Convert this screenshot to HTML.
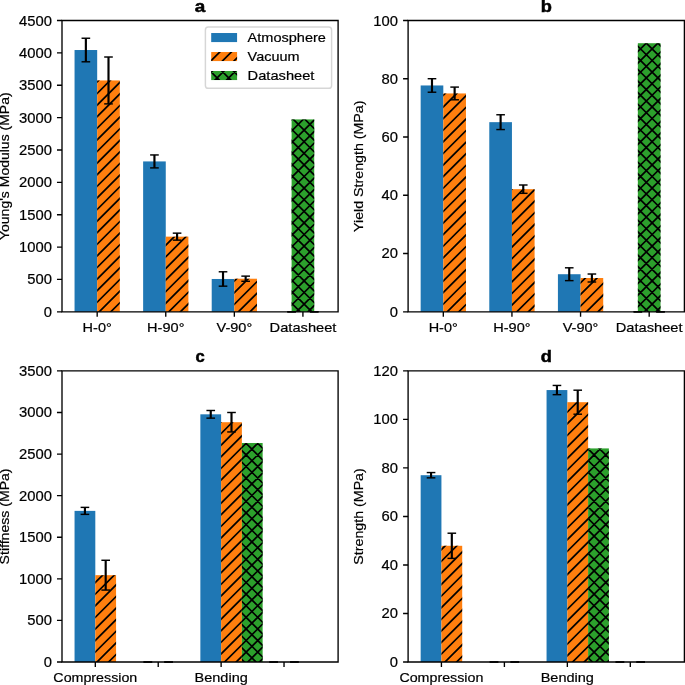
<!DOCTYPE html>
<html><head><meta charset="utf-8"><style>
html,body{margin:0;padding:0;background:#fff;}
svg{display:block;will-change:transform;}
text{font-family:"Liberation Sans",sans-serif;fill:#000;}
</style></head><body>
<svg width="685" height="685" viewBox="0 0 685 685">
<rect width="685" height="685" fill="#fff"/>
<defs><clipPath id="c1"><rect x="97.18" y="80.44" width="22.63" height="231.36"/></clipPath>
<clipPath id="c2"><rect x="165.76" y="236.64" width="22.63" height="75.16"/></clipPath>
<clipPath id="c3"><rect x="234.34" y="278.72" width="22.63" height="33.08"/></clipPath>
<clipPath id="c4"><rect x="291.6" y="119.41" width="22.63" height="192.39"/></clipPath>
<clipPath id="c5"><rect x="443.31" y="93.44" width="22.65" height="218.36"/></clipPath>
<clipPath id="c6"><rect x="511.94" y="189.16" width="22.65" height="122.64"/></clipPath>
<clipPath id="c7"><rect x="580.56" y="278.01" width="22.65" height="33.79"/></clipPath>
<clipPath id="c8"><rect x="637.87" y="43.22" width="22.65" height="268.58"/></clipPath>
<clipPath id="c9"><rect x="95.31" y="575.17" width="20.76" height="86.83"/></clipPath>
<clipPath id="c10"><rect x="221.12" y="422.22" width="20.76" height="239.78"/></clipPath>
<clipPath id="c11"><rect x="241.88" y="443.01" width="20.76" height="218.99"/></clipPath>
<clipPath id="c12"><rect x="441.43" y="545.8" width="20.77" height="116.2"/></clipPath>
<clipPath id="c13"><rect x="567.34" y="402.19" width="20.77" height="259.81"/></clipPath>
<clipPath id="c14"><rect x="588.11" y="448.41" width="20.77" height="213.59"/></clipPath>
<clipPath id="c15"><rect x="211.2" y="52.01" width="25.88" height="9.06"/></clipPath>
<clipPath id="c16"><rect x="211.2" y="71" width="25.88" height="9.06"/></clipPath></defs>
<rect x="74.55" y="50.02" width="22.63" height="261.78" fill="#1f77b4"/>
<rect x="97.18" y="80.44" width="22.63" height="231.36" fill="#ff7f0e"/>
<path clip-path="url(#c1)" d="M95.18 60.62L121.81 33.99M95.18 72.22L121.81 45.59M95.18 83.82L121.81 57.19M95.18 95.42L121.81 68.79M95.18 107.02L121.81 80.39M95.18 118.62L121.81 91.99M95.18 130.22L121.81 103.59M95.18 141.82L121.81 115.19M95.18 153.42L121.81 126.79M95.18 165.02L121.81 138.39M95.18 176.62L121.81 149.99M95.18 188.22L121.81 161.59M95.18 199.82L121.81 173.19M95.18 211.42L121.81 184.79M95.18 223.02L121.81 196.39M95.18 234.62L121.81 207.99M95.18 246.22L121.81 219.59M95.18 257.82L121.81 231.19M95.18 269.42L121.81 242.79M95.18 281.02L121.81 254.39M95.18 292.62L121.81 265.99M95.18 304.22L121.81 277.59M95.18 315.82L121.81 289.19M95.18 327.42L121.81 300.79M95.18 339.02L121.81 312.39M95.18 350.62L121.81 323.99" stroke="#000" stroke-width="1.7" fill="none"/>
<rect x="143.13" y="161.42" width="22.63" height="150.38" fill="#1f77b4"/>
<rect x="165.76" y="236.64" width="22.63" height="75.16" fill="#ff7f0e"/>
<path clip-path="url(#c2)" d="M163.76 224.04L190.39 197.41M163.76 235.64L190.39 209.01M163.76 247.24L190.39 220.61M163.76 258.84L190.39 232.21M163.76 270.44L190.39 243.81M163.76 282.04L190.39 255.41M163.76 293.64L190.39 267.01M163.76 305.24L190.39 278.61M163.76 316.84L190.39 290.21M163.76 328.44L190.39 301.81M163.76 340.04L190.39 313.41M163.76 351.64L190.39 325.01" stroke="#000" stroke-width="1.7" fill="none"/>
<rect x="211.71" y="278.98" width="22.63" height="32.82" fill="#1f77b4"/>
<rect x="234.34" y="278.72" width="22.63" height="33.08" fill="#ff7f0e"/>
<path clip-path="url(#c3)" d="M232.34 259.86L258.97 233.23M232.34 271.46L258.97 244.83M232.34 283.06L258.97 256.43M232.34 294.66L258.97 268.03M232.34 306.26L258.97 279.63M232.34 317.86L258.97 291.23M232.34 329.46L258.97 302.83M232.34 341.06L258.97 314.43M232.34 352.66L258.97 326.03" stroke="#000" stroke-width="1.7" fill="none"/>
<rect x="291.6" y="119.41" width="22.63" height="192.39" fill="#2ca02c"/>
<path clip-path="url(#c4)" d="M289.6 109.8L316.23 83.17M289.6 121.4L316.23 94.77M289.6 133L316.23 106.37M289.6 144.6L316.23 117.97M289.6 156.2L316.23 129.57M289.6 167.8L316.23 141.17M289.6 179.4L316.23 152.77M289.6 191L316.23 164.37M289.6 202.6L316.23 175.97M289.6 214.2L316.23 187.57M289.6 225.8L316.23 199.17M289.6 237.4L316.23 210.77M289.6 249L316.23 222.37M289.6 260.6L316.23 233.97M289.6 272.2L316.23 245.57M289.6 283.8L316.23 257.17M289.6 295.4L316.23 268.77M289.6 307L316.23 280.37M289.6 318.6L316.23 291.97M289.6 330.2L316.23 303.57M289.6 341.8L316.23 315.17M289.6 353.4L316.23 326.77M289.6 324.4L316.23 351.03M289.6 312.8L316.23 339.43M289.6 301.2L316.23 327.83M289.6 289.6L316.23 316.23M289.6 278L316.23 304.63M289.6 266.4L316.23 293.03M289.6 254.8L316.23 281.43M289.6 243.2L316.23 269.83M289.6 231.6L316.23 258.23M289.6 220L316.23 246.63M289.6 208.4L316.23 235.03M289.6 196.8L316.23 223.43M289.6 185.2L316.23 211.83M289.6 173.6L316.23 200.23M289.6 162L316.23 188.63M289.6 150.4L316.23 177.03M289.6 138.8L316.23 165.43M289.6 127.2L316.23 153.83M289.6 115.6L316.23 142.23M289.6 104L316.23 130.63M289.6 92.4L316.23 119.03M289.6 80.8L316.23 107.43" stroke="#000" stroke-width="1.7" fill="none"/>
<line x1="85.87" y1="38.24" x2="85.87" y2="61.8" stroke="#000" stroke-width="2.16"/>
<line x1="81.55" y1="38.24" x2="90.18" y2="38.24" stroke="#000" stroke-width="1.44"/>
<line x1="81.55" y1="61.8" x2="90.18" y2="61.8" stroke="#000" stroke-width="1.44"/>
<line x1="108.5" y1="57.01" x2="108.5" y2="103.88" stroke="#000" stroke-width="2.16"/>
<line x1="104.18" y1="57.01" x2="112.81" y2="57.01" stroke="#000" stroke-width="1.44"/>
<line x1="104.18" y1="103.88" x2="112.81" y2="103.88" stroke="#000" stroke-width="1.44"/>
<line x1="154.44" y1="154.95" x2="154.44" y2="167.9" stroke="#000" stroke-width="2.16"/>
<line x1="150.13" y1="154.95" x2="158.76" y2="154.95" stroke="#000" stroke-width="1.44"/>
<line x1="150.13" y1="167.9" x2="158.76" y2="167.9" stroke="#000" stroke-width="1.44"/>
<line x1="177.08" y1="233.15" x2="177.08" y2="240.14" stroke="#000" stroke-width="2.16"/>
<line x1="172.76" y1="233.15" x2="181.39" y2="233.15" stroke="#000" stroke-width="1.44"/>
<line x1="172.76" y1="240.14" x2="181.39" y2="240.14" stroke="#000" stroke-width="1.44"/>
<line x1="223.02" y1="271.79" x2="223.02" y2="286.17" stroke="#000" stroke-width="2.16"/>
<line x1="218.71" y1="271.79" x2="227.34" y2="271.79" stroke="#000" stroke-width="1.44"/>
<line x1="218.71" y1="286.17" x2="227.34" y2="286.17" stroke="#000" stroke-width="1.44"/>
<line x1="245.66" y1="276.13" x2="245.66" y2="281.31" stroke="#000" stroke-width="2.16"/>
<line x1="241.34" y1="276.13" x2="249.97" y2="276.13" stroke="#000" stroke-width="1.44"/>
<line x1="241.34" y1="281.31" x2="249.97" y2="281.31" stroke="#000" stroke-width="1.44"/>
<line x1="287.29" y1="311.8" x2="295.92" y2="311.8" stroke="#000" stroke-width="1.44"/>
<line x1="287.29" y1="311.8" x2="295.92" y2="311.8" stroke="#000" stroke-width="1.44"/>
<line x1="309.92" y1="311.8" x2="318.55" y2="311.8" stroke="#000" stroke-width="1.44"/>
<line x1="309.92" y1="311.8" x2="318.55" y2="311.8" stroke="#000" stroke-width="1.44"/>
<path d="M62 20.5H338.1V311.8H62Z" fill="none" stroke="#000" stroke-width="1.35" stroke-linejoin="miter"/>
<path d="M97.18 311.8v5.03M165.76 311.8v5.03M234.34 311.8v5.03M302.92 311.8v5.03M62 311.8h-5.03M62 279.43h-5.03M62 247.07h-5.03M62 214.7h-5.03M62 182.33h-5.03M62 149.97h-5.03M62 117.6h-5.03M62 85.23h-5.03M62 52.87h-5.03M62 20.5h-5.03" stroke="#000" stroke-width="1.35"/>
<rect x="420.66" y="85.46" width="22.65" height="226.34" fill="#1f77b4"/>
<rect x="443.31" y="93.44" width="22.65" height="218.36" fill="#ff7f0e"/>
<path clip-path="url(#c5)" d="M441.31 74.09L467.95 47.45M441.31 85.69L467.95 59.05M441.31 97.29L467.95 70.65M441.31 108.89L467.95 82.25M441.31 120.49L467.95 93.85M441.31 132.09L467.95 105.45M441.31 143.69L467.95 117.05M441.31 155.29L467.95 128.65M441.31 166.89L467.95 140.25M441.31 178.49L467.95 151.85M441.31 190.09L467.95 163.45M441.31 201.69L467.95 175.05M441.31 213.29L467.95 186.65M441.31 224.89L467.95 198.25M441.31 236.49L467.95 209.85M441.31 248.09L467.95 221.45M441.31 259.69L467.95 233.05M441.31 271.29L467.95 244.65M441.31 282.89L467.95 256.25M441.31 294.49L467.95 267.85M441.31 306.09L467.95 279.45M441.31 317.69L467.95 291.05M441.31 329.29L467.95 302.65M441.31 340.89L467.95 314.25M441.31 352.49L467.95 325.85" stroke="#000" stroke-width="1.7" fill="none"/>
<rect x="489.29" y="122.16" width="22.65" height="189.64" fill="#1f77b4"/>
<rect x="511.94" y="189.16" width="22.65" height="122.64" fill="#ff7f0e"/>
<path clip-path="url(#c6)" d="M509.94 179.46L536.58 152.82M509.94 191.06L536.58 164.42M509.94 202.66L536.58 176.02M509.94 214.26L536.58 187.62M509.94 225.86L536.58 199.22M509.94 237.46L536.58 210.82M509.94 249.06L536.58 222.42M509.94 260.66L536.58 234.02M509.94 272.26L536.58 245.62M509.94 283.86L536.58 257.22M509.94 295.46L536.58 268.82M509.94 307.06L536.58 280.42M509.94 318.66L536.58 292.02M509.94 330.26L536.58 303.62M509.94 341.86L536.58 315.22M509.94 353.46L536.58 326.82" stroke="#000" stroke-width="1.7" fill="none"/>
<rect x="557.92" y="274.22" width="22.65" height="37.58" fill="#1f77b4"/>
<rect x="580.56" y="278.01" width="22.65" height="33.79" fill="#ff7f0e"/>
<path clip-path="url(#c7)" d="M578.56 261.64L605.21 234.99M578.56 273.24L605.21 246.59M578.56 284.84L605.21 258.19M578.56 296.44L605.21 269.79M578.56 308.04L605.21 281.39M578.56 319.64L605.21 292.99M578.56 331.24L605.21 304.59M578.56 342.84L605.21 316.19M578.56 354.44L605.21 327.79" stroke="#000" stroke-width="1.7" fill="none"/>
<rect x="637.87" y="43.22" width="22.65" height="268.58" fill="#2ca02c"/>
<path clip-path="url(#c8)" d="M635.87 30.33L662.52 3.68M635.87 41.93L662.52 15.28M635.87 53.53L662.52 26.88M635.87 65.13L662.52 38.48M635.87 76.73L662.52 50.08M635.87 88.33L662.52 61.68M635.87 99.93L662.52 73.28M635.87 111.53L662.52 84.88M635.87 123.13L662.52 96.48M635.87 134.73L662.52 108.08M635.87 146.33L662.52 119.68M635.87 157.93L662.52 131.28M635.87 169.53L662.52 142.88M635.87 181.13L662.52 154.48M635.87 192.73L662.52 166.08M635.87 204.33L662.52 177.68M635.87 215.93L662.52 189.28M635.87 227.53L662.52 200.88M635.87 239.13L662.52 212.48M635.87 250.73L662.52 224.08M635.87 262.33L662.52 235.68M635.87 273.93L662.52 247.28M635.87 285.53L662.52 258.88M635.87 297.13L662.52 270.48M635.87 308.73L662.52 282.08M635.87 320.33L662.52 293.68M635.87 331.93L662.52 305.28M635.87 343.53L662.52 316.88M635.87 355.13L662.52 328.48M635.87 322.67L662.52 349.32M635.87 311.07L662.52 337.72M635.87 299.47L662.52 326.12M635.87 287.87L662.52 314.52M635.87 276.27L662.52 302.92M635.87 264.67L662.52 291.32M635.87 253.07L662.52 279.72M635.87 241.47L662.52 268.12M635.87 229.87L662.52 256.52M635.87 218.27L662.52 244.92M635.87 206.67L662.52 233.32M635.87 195.07L662.52 221.72M635.87 183.47L662.52 210.12M635.87 171.87L662.52 198.52M635.87 160.27L662.52 186.92M635.87 148.67L662.52 175.32M635.87 137.07L662.52 163.72M635.87 125.47L662.52 152.12M635.87 113.87L662.52 140.52M635.87 102.27L662.52 128.92M635.87 90.67L662.52 117.32M635.87 79.07L662.52 105.72M635.87 67.47L662.52 94.12M635.87 55.87L662.52 82.52M635.87 44.27L662.52 70.92M635.87 32.67L662.52 59.32M635.87 21.07L662.52 47.72M635.87 9.47L662.52 36.12M635.87 -2.13L662.52 24.52" stroke="#000" stroke-width="1.7" fill="none"/>
<line x1="431.98" y1="78.7" x2="431.98" y2="92.22" stroke="#000" stroke-width="2.16"/>
<line x1="427.67" y1="78.7" x2="436.3" y2="78.7" stroke="#000" stroke-width="1.44"/>
<line x1="427.67" y1="92.22" x2="436.3" y2="92.22" stroke="#000" stroke-width="1.44"/>
<line x1="454.63" y1="87.09" x2="454.63" y2="99.79" stroke="#000" stroke-width="2.16"/>
<line x1="450.32" y1="87.09" x2="458.94" y2="87.09" stroke="#000" stroke-width="1.44"/>
<line x1="450.32" y1="99.79" x2="458.94" y2="99.79" stroke="#000" stroke-width="1.44"/>
<line x1="500.61" y1="114.76" x2="500.61" y2="129.56" stroke="#000" stroke-width="2.16"/>
<line x1="496.3" y1="114.76" x2="504.92" y2="114.76" stroke="#000" stroke-width="1.44"/>
<line x1="496.3" y1="129.56" x2="504.92" y2="129.56" stroke="#000" stroke-width="1.44"/>
<line x1="523.26" y1="185" x2="523.26" y2="193.33" stroke="#000" stroke-width="2.16"/>
<line x1="518.95" y1="185" x2="527.57" y2="185" stroke="#000" stroke-width="1.44"/>
<line x1="518.95" y1="193.33" x2="527.57" y2="193.33" stroke="#000" stroke-width="1.44"/>
<line x1="569.24" y1="267.81" x2="569.24" y2="280.63" stroke="#000" stroke-width="2.16"/>
<line x1="564.93" y1="267.81" x2="573.55" y2="267.81" stroke="#000" stroke-width="1.44"/>
<line x1="564.93" y1="280.63" x2="573.55" y2="280.63" stroke="#000" stroke-width="1.44"/>
<line x1="591.89" y1="274.02" x2="591.89" y2="282" stroke="#000" stroke-width="2.16"/>
<line x1="587.58" y1="274.02" x2="596.2" y2="274.02" stroke="#000" stroke-width="1.44"/>
<line x1="587.58" y1="282" x2="596.2" y2="282" stroke="#000" stroke-width="1.44"/>
<line x1="633.56" y1="311.8" x2="642.18" y2="311.8" stroke="#000" stroke-width="1.44"/>
<line x1="633.56" y1="311.8" x2="642.18" y2="311.8" stroke="#000" stroke-width="1.44"/>
<line x1="656.2" y1="311.8" x2="664.83" y2="311.8" stroke="#000" stroke-width="1.44"/>
<line x1="656.2" y1="311.8" x2="664.83" y2="311.8" stroke="#000" stroke-width="1.44"/>
<path d="M408.1 20.5H684.4V311.8H408.1Z" fill="none" stroke="#000" stroke-width="1.35" stroke-linejoin="miter"/>
<path d="M443.31 311.8v5.03M511.94 311.8v5.03M580.56 311.8v5.03M649.19 311.8v5.03M408.1 311.8h-5.03M408.1 253.54h-5.03M408.1 195.28h-5.03M408.1 137.02h-5.03M408.1 78.76h-5.03M408.1 20.5h-5.03" stroke="#000" stroke-width="1.35"/>
<rect x="74.55" y="510.88" width="20.76" height="151.12" fill="#1f77b4"/>
<rect x="95.31" y="575.17" width="20.76" height="86.83" fill="#ff7f0e"/>
<path clip-path="url(#c9)" d="M93.31 561.29L118.07 536.53M93.31 572.89L118.07 548.13M93.31 584.49L118.07 559.73M93.31 596.09L118.07 571.33M93.31 607.69L118.07 582.93M93.31 619.29L118.07 594.53M93.31 630.89L118.07 606.13M93.31 642.49L118.07 617.73M93.31 654.09L118.07 629.33M93.31 665.69L118.07 640.93M93.31 677.29L118.07 652.53M93.31 688.89L118.07 664.13M93.31 700.49L118.07 675.73" stroke="#000" stroke-width="1.7" fill="none"/>
<rect x="200.36" y="414.32" width="20.76" height="247.68" fill="#1f77b4"/>
<rect x="221.12" y="422.22" width="20.76" height="239.78" fill="#ff7f0e"/>
<path clip-path="url(#c10)" d="M219.12 412.28L243.88 387.52M219.12 423.88L243.88 399.12M219.12 435.48L243.88 410.72M219.12 447.08L243.88 422.32M219.12 458.68L243.88 433.92M219.12 470.28L243.88 445.52M219.12 481.88L243.88 457.12M219.12 493.48L243.88 468.72M219.12 505.08L243.88 480.32M219.12 516.68L243.88 491.92M219.12 528.28L243.88 503.52M219.12 539.88L243.88 515.12M219.12 551.48L243.88 526.72M219.12 563.08L243.88 538.32M219.12 574.68L243.88 549.92M219.12 586.28L243.88 561.52M219.12 597.88L243.88 573.12M219.12 609.48L243.88 584.72M219.12 621.08L243.88 596.32M219.12 632.68L243.88 607.92M219.12 644.28L243.88 619.52M219.12 655.88L243.88 631.12M219.12 667.48L243.88 642.72M219.12 679.08L243.88 654.32M219.12 690.68L243.88 665.92M219.12 702.28L243.88 677.52" stroke="#000" stroke-width="1.7" fill="none"/>
<rect x="241.88" y="443.01" width="20.76" height="218.99" fill="#2ca02c"/>
<path clip-path="url(#c11)" d="M239.88 426.32L264.64 401.56M239.88 437.92L264.64 413.16M239.88 449.52L264.64 424.76M239.88 461.12L264.64 436.36M239.88 472.72L264.64 447.96M239.88 484.32L264.64 459.56M239.88 495.92L264.64 471.16M239.88 507.52L264.64 482.76M239.88 519.12L264.64 494.36M239.88 530.72L264.64 505.96M239.88 542.32L264.64 517.56M239.88 553.92L264.64 529.16M239.88 565.52L264.64 540.76M239.88 577.12L264.64 552.36M239.88 588.72L264.64 563.96M239.88 600.32L264.64 575.56M239.88 611.92L264.64 587.16M239.88 623.52L264.64 598.76M239.88 635.12L264.64 610.36M239.88 646.72L264.64 621.96M239.88 658.32L264.64 633.56M239.88 669.92L264.64 645.16M239.88 681.52L264.64 656.76M239.88 693.12L264.64 668.36M239.88 704.72L264.64 679.96M239.88 680.68L264.64 705.44M239.88 669.08L264.64 693.84M239.88 657.48L264.64 682.24M239.88 645.88L264.64 670.64M239.88 634.28L264.64 659.04M239.88 622.68L264.64 647.44M239.88 611.08L264.64 635.84M239.88 599.48L264.64 624.24M239.88 587.88L264.64 612.64M239.88 576.28L264.64 601.04M239.88 564.68L264.64 589.44M239.88 553.08L264.64 577.84M239.88 541.48L264.64 566.24M239.88 529.88L264.64 554.64M239.88 518.28L264.64 543.04M239.88 506.68L264.64 531.44M239.88 495.08L264.64 519.84M239.88 483.48L264.64 508.24M239.88 471.88L264.64 496.64M239.88 460.28L264.64 485.04M239.88 448.68L264.64 473.44M239.88 437.08L264.64 461.84M239.88 425.48L264.64 450.24M239.88 413.88L264.64 438.64M239.88 402.28L264.64 427.04" stroke="#000" stroke-width="1.7" fill="none"/>
<line x1="84.93" y1="507.38" x2="84.93" y2="514.37" stroke="#000" stroke-width="2.16"/>
<line x1="80.62" y1="507.38" x2="89.24" y2="507.38" stroke="#000" stroke-width="1.44"/>
<line x1="80.62" y1="514.37" x2="89.24" y2="514.37" stroke="#000" stroke-width="1.44"/>
<line x1="105.69" y1="560.28" x2="105.69" y2="590.06" stroke="#000" stroke-width="2.16"/>
<line x1="101.38" y1="560.28" x2="110" y2="560.28" stroke="#000" stroke-width="1.44"/>
<line x1="101.38" y1="590.06" x2="110" y2="590.06" stroke="#000" stroke-width="1.44"/>
<line x1="143.52" y1="662" x2="152.15" y2="662" stroke="#000" stroke-width="1.44"/>
<line x1="143.52" y1="662" x2="152.15" y2="662" stroke="#000" stroke-width="1.44"/>
<line x1="164.28" y1="662" x2="172.91" y2="662" stroke="#000" stroke-width="1.44"/>
<line x1="164.28" y1="662" x2="172.91" y2="662" stroke="#000" stroke-width="1.44"/>
<line x1="210.74" y1="410.49" x2="210.74" y2="418.14" stroke="#000" stroke-width="2.16"/>
<line x1="206.43" y1="410.49" x2="215.06" y2="410.49" stroke="#000" stroke-width="1.44"/>
<line x1="206.43" y1="418.14" x2="215.06" y2="418.14" stroke="#000" stroke-width="1.44"/>
<line x1="231.5" y1="412.49" x2="231.5" y2="431.95" stroke="#000" stroke-width="2.16"/>
<line x1="227.19" y1="412.49" x2="235.82" y2="412.49" stroke="#000" stroke-width="1.44"/>
<line x1="227.19" y1="431.95" x2="235.82" y2="431.95" stroke="#000" stroke-width="1.44"/>
<line x1="269.34" y1="662" x2="277.96" y2="662" stroke="#000" stroke-width="1.44"/>
<line x1="269.34" y1="662" x2="277.96" y2="662" stroke="#000" stroke-width="1.44"/>
<line x1="290.1" y1="662" x2="298.72" y2="662" stroke="#000" stroke-width="1.44"/>
<line x1="290.1" y1="662" x2="298.72" y2="662" stroke="#000" stroke-width="1.44"/>
<path d="M62 370.9H338.1V662H62Z" fill="none" stroke="#000" stroke-width="1.35" stroke-linejoin="miter"/>
<path d="M95.31 662v5.03M158.22 662v5.03M221.12 662v5.03M284.03 662v5.03M62 662h-5.03M62 620.41h-5.03M62 578.83h-5.03M62 537.24h-5.03M62 495.66h-5.03M62 454.07h-5.03M62 412.49h-5.03M62 370.9h-5.03" stroke="#000" stroke-width="1.35"/>
<rect x="420.66" y="475.21" width="20.77" height="186.79" fill="#1f77b4"/>
<rect x="441.43" y="545.8" width="20.77" height="116.2" fill="#ff7f0e"/>
<path clip-path="url(#c12)" d="M439.43 528.37L464.21 503.59M439.43 539.97L464.21 515.19M439.43 551.57L464.21 526.79M439.43 563.17L464.21 538.39M439.43 574.77L464.21 549.99M439.43 586.37L464.21 561.59M439.43 597.97L464.21 573.19M439.43 609.57L464.21 584.79M439.43 621.17L464.21 596.39M439.43 632.77L464.21 607.99M439.43 644.37L464.21 619.59M439.43 655.97L464.21 631.19M439.43 667.57L464.21 642.79M439.43 679.17L464.21 654.39M439.43 690.77L464.21 665.99M439.43 702.37L464.21 677.59" stroke="#000" stroke-width="1.7" fill="none"/>
<rect x="546.56" y="390.06" width="20.77" height="271.94" fill="#1f77b4"/>
<rect x="567.34" y="402.19" width="20.77" height="259.81" fill="#ff7f0e"/>
<path clip-path="url(#c13)" d="M565.34 390.86L590.11 366.09M565.34 402.46L590.11 377.69M565.34 414.06L590.11 389.29M565.34 425.66L590.11 400.89M565.34 437.26L590.11 412.49M565.34 448.86L590.11 424.09M565.34 460.46L590.11 435.69M565.34 472.06L590.11 447.29M565.34 483.66L590.11 458.89M565.34 495.26L590.11 470.49M565.34 506.86L590.11 482.09M565.34 518.46L590.11 493.69M565.34 530.06L590.11 505.29M565.34 541.66L590.11 516.89M565.34 553.26L590.11 528.49M565.34 564.86L590.11 540.09M565.34 576.46L590.11 551.69M565.34 588.06L590.11 563.29M565.34 599.66L590.11 574.89M565.34 611.26L590.11 586.49M565.34 622.86L590.11 598.09M565.34 634.46L590.11 609.69M565.34 646.06L590.11 621.29M565.34 657.66L590.11 632.89M565.34 669.26L590.11 644.49M565.34 680.86L590.11 656.09M565.34 692.46L590.11 667.69M565.34 704.06L590.11 679.29" stroke="#000" stroke-width="1.7" fill="none"/>
<rect x="588.11" y="448.41" width="20.77" height="213.59" fill="#2ca02c"/>
<path clip-path="url(#c14)" d="M586.11 428.09L610.89 403.31M586.11 439.69L610.89 414.91M586.11 451.29L610.89 426.51M586.11 462.89L610.89 438.11M586.11 474.49L610.89 449.71M586.11 486.09L610.89 461.31M586.11 497.69L610.89 472.91M586.11 509.29L610.89 484.51M586.11 520.89L610.89 496.11M586.11 532.49L610.89 507.71M586.11 544.09L610.89 519.31M586.11 555.69L610.89 530.91M586.11 567.29L610.89 542.51M586.11 578.89L610.89 554.11M586.11 590.49L610.89 565.71M586.11 602.09L610.89 577.31M586.11 613.69L610.89 588.91M586.11 625.29L610.89 600.51M586.11 636.89L610.89 612.11M586.11 648.49L610.89 623.71M586.11 660.09L610.89 635.31M586.11 671.69L610.89 646.91M586.11 683.29L610.89 658.51M586.11 694.89L610.89 670.11M586.11 706.49L610.89 681.71M586.11 678.91L610.89 703.69M586.11 667.31L610.89 692.09M586.11 655.71L610.89 680.49M586.11 644.11L610.89 668.89M586.11 632.51L610.89 657.29M586.11 620.91L610.89 645.69M586.11 609.31L610.89 634.09M586.11 597.71L610.89 622.49M586.11 586.11L610.89 610.89M586.11 574.51L610.89 599.29M586.11 562.91L610.89 587.69M586.11 551.31L610.89 576.09M586.11 539.71L610.89 564.49M586.11 528.11L610.89 552.89M586.11 516.51L610.89 541.29M586.11 504.91L610.89 529.69M586.11 493.31L610.89 518.09M586.11 481.71L610.89 506.49M586.11 470.11L610.89 494.89M586.11 458.51L610.89 483.29M586.11 446.91L610.89 471.69M586.11 435.31L610.89 460.09M586.11 423.71L610.89 448.49M586.11 412.11L610.89 436.89" stroke="#000" stroke-width="1.7" fill="none"/>
<line x1="431.05" y1="472.57" x2="431.05" y2="477.85" stroke="#000" stroke-width="2.16"/>
<line x1="426.73" y1="472.57" x2="435.36" y2="472.57" stroke="#000" stroke-width="1.44"/>
<line x1="426.73" y1="477.85" x2="435.36" y2="477.85" stroke="#000" stroke-width="1.44"/>
<line x1="451.82" y1="533.21" x2="451.82" y2="558.39" stroke="#000" stroke-width="2.16"/>
<line x1="447.51" y1="533.21" x2="456.13" y2="533.21" stroke="#000" stroke-width="1.44"/>
<line x1="447.51" y1="558.39" x2="456.13" y2="558.39" stroke="#000" stroke-width="1.44"/>
<line x1="489.69" y1="662" x2="498.31" y2="662" stroke="#000" stroke-width="1.44"/>
<line x1="489.69" y1="662" x2="498.31" y2="662" stroke="#000" stroke-width="1.44"/>
<line x1="510.46" y1="662" x2="519.09" y2="662" stroke="#000" stroke-width="1.44"/>
<line x1="510.46" y1="662" x2="519.09" y2="662" stroke="#000" stroke-width="1.44"/>
<line x1="556.95" y1="385.45" x2="556.95" y2="394.67" stroke="#000" stroke-width="2.16"/>
<line x1="552.64" y1="385.45" x2="561.26" y2="385.45" stroke="#000" stroke-width="1.44"/>
<line x1="552.64" y1="394.67" x2="561.26" y2="394.67" stroke="#000" stroke-width="1.44"/>
<line x1="577.73" y1="390.19" x2="577.73" y2="414.2" stroke="#000" stroke-width="2.16"/>
<line x1="573.41" y1="390.19" x2="582.04" y2="390.19" stroke="#000" stroke-width="1.44"/>
<line x1="573.41" y1="414.2" x2="582.04" y2="414.2" stroke="#000" stroke-width="1.44"/>
<line x1="615.59" y1="662" x2="624.22" y2="662" stroke="#000" stroke-width="1.44"/>
<line x1="615.59" y1="662" x2="624.22" y2="662" stroke="#000" stroke-width="1.44"/>
<line x1="636.37" y1="662" x2="644.99" y2="662" stroke="#000" stroke-width="1.44"/>
<line x1="636.37" y1="662" x2="644.99" y2="662" stroke="#000" stroke-width="1.44"/>
<path d="M408.1 370.9H684.4V662H408.1Z" fill="none" stroke="#000" stroke-width="1.35" stroke-linejoin="miter"/>
<path d="M441.43 662v5.03M504.39 662v5.03M567.34 662v5.03M630.29 662v5.03M408.1 662h-5.03M408.1 613.48h-5.03M408.1 564.97h-5.03M408.1 516.45h-5.03M408.1 467.93h-5.03M408.1 419.42h-5.03M408.1 370.9h-5.03" stroke="#000" stroke-width="1.35"/>
<rect x="205.4" y="27" width="126.2" height="61.3" rx="2.9" ry="2.9" fill="#fff" fill-opacity="0.8" stroke="#cccccc" stroke-opacity="0.8" stroke-width="1.44"/>
<rect x="211.2" y="33.02" width="25.88" height="9.06" fill="#1f77b4"/>
<rect x="211.2" y="52.01" width="25.88" height="9.06" fill="#ff7f0e"/>
<path clip-path="url(#c15)" d="M209.2 39.4L239.07 9.53M209.2 51L239.07 21.12M209.2 62.6L239.07 32.73M209.2 74.2L239.07 44.32M209.2 85.8L239.07 55.93M209.2 97.4L239.07 67.52M209.2 109L239.07 79.12" stroke="#000" stroke-width="1.7" fill="none"/>
<rect x="211.2" y="71" width="25.88" height="9.06" fill="#2ca02c"/>
<path clip-path="url(#c16)" d="M209.2 51L239.07 21.12M209.2 62.6L239.07 32.73M209.2 74.2L239.07 44.32M209.2 85.8L239.07 55.93M209.2 97.4L239.07 67.52M209.2 109L239.07 79.12M209.2 120.6L239.07 90.73M209.2 93.2L239.07 123.07M209.2 81.6L239.07 111.47M209.2 70L239.07 99.88M209.2 58.4L239.07 88.28M209.2 46.8L239.07 76.67M209.2 35.2L239.07 65.07M209.2 23.6L239.07 53.47" stroke="#000" stroke-width="1.7" fill="none"/>
<text x="97.19" y="331.69" text-anchor="middle" font-size="13.33" stroke="#000" stroke-width="0.2" textLength="29.1" lengthAdjust="spacingAndGlyphs">H-0°</text>
<text x="165.8" y="331.69" text-anchor="middle" font-size="13.33" stroke="#000" stroke-width="0.2" textLength="37.33" lengthAdjust="spacingAndGlyphs">H-90°</text>
<text x="234.4" y="331.69" text-anchor="middle" font-size="13.33" stroke="#000" stroke-width="0.2" textLength="35.69" lengthAdjust="spacingAndGlyphs">V-90°</text>
<text x="303.01" y="331.69" text-anchor="middle" font-size="13.33" stroke="#000" stroke-width="0.2" textLength="66.82" lengthAdjust="spacingAndGlyphs">Datasheet</text>
<text x="51.94" y="316.72" text-anchor="end" font-size="13.71" stroke="#000" stroke-width="0.2" textLength="8.23" lengthAdjust="spacingAndGlyphs">0</text>
<text x="51.94" y="284.36" text-anchor="end" font-size="13.71" stroke="#000" stroke-width="0.2" textLength="24.69" lengthAdjust="spacingAndGlyphs">500</text>
<text x="51.94" y="252" text-anchor="end" font-size="13.71" stroke="#000" stroke-width="0.2" textLength="32.93" lengthAdjust="spacingAndGlyphs">1000</text>
<text x="51.94" y="219.65" text-anchor="end" font-size="13.71" stroke="#000" stroke-width="0.2" textLength="32.93" lengthAdjust="spacingAndGlyphs">1500</text>
<text x="51.94" y="187.29" text-anchor="end" font-size="13.71" stroke="#000" stroke-width="0.2" textLength="32.93" lengthAdjust="spacingAndGlyphs">2000</text>
<text x="51.94" y="154.94" text-anchor="end" font-size="13.71" stroke="#000" stroke-width="0.2" textLength="32.93" lengthAdjust="spacingAndGlyphs">2500</text>
<text x="51.94" y="122.58" text-anchor="end" font-size="13.71" stroke="#000" stroke-width="0.2" textLength="32.93" lengthAdjust="spacingAndGlyphs">3000</text>
<text x="51.94" y="90.23" text-anchor="end" font-size="13.71" stroke="#000" stroke-width="0.2" textLength="32.93" lengthAdjust="spacingAndGlyphs">3500</text>
<text x="51.94" y="57.87" text-anchor="end" font-size="13.71" stroke="#000" stroke-width="0.2" textLength="32.93" lengthAdjust="spacingAndGlyphs">4000</text>
<text x="51.94" y="25.52" text-anchor="end" font-size="13.71" stroke="#000" stroke-width="0.2" textLength="32.93" lengthAdjust="spacingAndGlyphs">4500</text>
<text x="9.07" y="166.2" text-anchor="middle" font-size="13.33" stroke="#000" stroke-width="0.2" textLength="147.66" lengthAdjust="spacingAndGlyphs" transform="rotate(-90 9.07 166.2)">Young&#39;s Modulus (MPa)</text>
<text x="200.1" y="11.98" text-anchor="middle" font-size="15.99" font-weight="bold" stroke="#000" stroke-width="0.5" textLength="10.48" lengthAdjust="spacingAndGlyphs">a</text>
<text x="247.64" y="42.07" text-anchor="start" font-size="13.33" stroke="#000" stroke-width="0.2" textLength="78.32" lengthAdjust="spacingAndGlyphs">Atmosphere</text>
<text x="247.64" y="61.06" text-anchor="start" font-size="13.33" stroke="#000" stroke-width="0.2" textLength="51.89" lengthAdjust="spacingAndGlyphs">Vacuum</text>
<text x="247.64" y="80.05" text-anchor="start" font-size="13.33" stroke="#000" stroke-width="0.2" textLength="66.82" lengthAdjust="spacingAndGlyphs">Datasheet</text>
<text x="443.22" y="331.69" text-anchor="middle" font-size="13.33" stroke="#000" stroke-width="0.2" textLength="29.1" lengthAdjust="spacingAndGlyphs">H-0°</text>
<text x="511.87" y="331.69" text-anchor="middle" font-size="13.33" stroke="#000" stroke-width="0.2" textLength="37.33" lengthAdjust="spacingAndGlyphs">H-90°</text>
<text x="580.53" y="331.69" text-anchor="middle" font-size="13.33" stroke="#000" stroke-width="0.2" textLength="35.69" lengthAdjust="spacingAndGlyphs">V-90°</text>
<text x="649.18" y="331.69" text-anchor="middle" font-size="13.33" stroke="#000" stroke-width="0.2" textLength="66.82" lengthAdjust="spacingAndGlyphs">Datasheet</text>
<text x="397.94" y="316.72" text-anchor="end" font-size="13.71" stroke="#000" stroke-width="0.2" textLength="8.23" lengthAdjust="spacingAndGlyphs">0</text>
<text x="397.94" y="258.48" text-anchor="end" font-size="13.71" stroke="#000" stroke-width="0.2" textLength="16.46" lengthAdjust="spacingAndGlyphs">20</text>
<text x="397.94" y="200.24" text-anchor="end" font-size="13.71" stroke="#000" stroke-width="0.2" textLength="16.46" lengthAdjust="spacingAndGlyphs">40</text>
<text x="397.94" y="142" text-anchor="end" font-size="13.71" stroke="#000" stroke-width="0.2" textLength="16.46" lengthAdjust="spacingAndGlyphs">60</text>
<text x="397.94" y="83.76" text-anchor="end" font-size="13.71" stroke="#000" stroke-width="0.2" textLength="16.46" lengthAdjust="spacingAndGlyphs">80</text>
<text x="397.94" y="25.52" text-anchor="end" font-size="13.71" stroke="#000" stroke-width="0.2" textLength="24.69" lengthAdjust="spacingAndGlyphs">100</text>
<text x="363.3" y="166.2" text-anchor="middle" font-size="13.33" stroke="#000" stroke-width="0.2" textLength="131.4" lengthAdjust="spacingAndGlyphs" transform="rotate(-90 363.3 166.2)">Yield Strength (MPa)</text>
<text x="546.2" y="11.98" text-anchor="middle" font-size="15.99" font-weight="bold" stroke="#000" stroke-width="0.5" textLength="11.11" lengthAdjust="spacingAndGlyphs">b</text>
<text x="95.32" y="681.89" text-anchor="middle" font-size="13.33" stroke="#000" stroke-width="0.2" textLength="83.95" lengthAdjust="spacingAndGlyphs">Compression</text>
<text x="221.18" y="681.89" text-anchor="middle" font-size="13.33" stroke="#000" stroke-width="0.2" textLength="53.25" lengthAdjust="spacingAndGlyphs">Bending</text>
<text x="51.94" y="666.92" text-anchor="end" font-size="13.71" stroke="#000" stroke-width="0.2" textLength="8.23" lengthAdjust="spacingAndGlyphs">0</text>
<text x="51.94" y="625.33" text-anchor="end" font-size="13.71" stroke="#000" stroke-width="0.2" textLength="24.69" lengthAdjust="spacingAndGlyphs">500</text>
<text x="51.94" y="583.74" text-anchor="end" font-size="13.71" stroke="#000" stroke-width="0.2" textLength="32.93" lengthAdjust="spacingAndGlyphs">1000</text>
<text x="51.94" y="542.16" text-anchor="end" font-size="13.71" stroke="#000" stroke-width="0.2" textLength="32.93" lengthAdjust="spacingAndGlyphs">1500</text>
<text x="51.94" y="500.57" text-anchor="end" font-size="13.71" stroke="#000" stroke-width="0.2" textLength="32.93" lengthAdjust="spacingAndGlyphs">2000</text>
<text x="51.94" y="458.99" text-anchor="end" font-size="13.71" stroke="#000" stroke-width="0.2" textLength="32.93" lengthAdjust="spacingAndGlyphs">2500</text>
<text x="51.94" y="417.4" text-anchor="end" font-size="13.71" stroke="#000" stroke-width="0.2" textLength="32.93" lengthAdjust="spacingAndGlyphs">3000</text>
<text x="51.94" y="375.82" text-anchor="end" font-size="13.71" stroke="#000" stroke-width="0.2" textLength="32.93" lengthAdjust="spacingAndGlyphs">3500</text>
<text x="9.07" y="516.45" text-anchor="middle" font-size="13.33" stroke="#000" stroke-width="0.2" textLength="95.95" lengthAdjust="spacingAndGlyphs" transform="rotate(-90 9.07 516.45)">Stiffness (MPa)</text>
<text x="200.1" y="362.27" text-anchor="middle" font-size="15.99" font-weight="bold" stroke="#000" stroke-width="0.5" textLength="9.2" lengthAdjust="spacingAndGlyphs">c</text>
<text x="441.35" y="681.89" text-anchor="middle" font-size="13.33" stroke="#000" stroke-width="0.2" textLength="83.95" lengthAdjust="spacingAndGlyphs">Compression</text>
<text x="567.3" y="681.89" text-anchor="middle" font-size="13.33" stroke="#000" stroke-width="0.2" textLength="53.25" lengthAdjust="spacingAndGlyphs">Bending</text>
<text x="397.94" y="666.92" text-anchor="end" font-size="13.71" stroke="#000" stroke-width="0.2" textLength="8.23" lengthAdjust="spacingAndGlyphs">0</text>
<text x="397.94" y="618.4" text-anchor="end" font-size="13.71" stroke="#000" stroke-width="0.2" textLength="16.46" lengthAdjust="spacingAndGlyphs">20</text>
<text x="397.94" y="569.88" text-anchor="end" font-size="13.71" stroke="#000" stroke-width="0.2" textLength="16.46" lengthAdjust="spacingAndGlyphs">40</text>
<text x="397.94" y="521.37" text-anchor="end" font-size="13.71" stroke="#000" stroke-width="0.2" textLength="16.46" lengthAdjust="spacingAndGlyphs">60</text>
<text x="397.94" y="472.85" text-anchor="end" font-size="13.71" stroke="#000" stroke-width="0.2" textLength="16.46" lengthAdjust="spacingAndGlyphs">80</text>
<text x="397.94" y="424.33" text-anchor="end" font-size="13.71" stroke="#000" stroke-width="0.2" textLength="24.69" lengthAdjust="spacingAndGlyphs">100</text>
<text x="397.94" y="375.82" text-anchor="end" font-size="13.71" stroke="#000" stroke-width="0.2" textLength="24.69" lengthAdjust="spacingAndGlyphs">120</text>
<text x="363.3" y="516.45" text-anchor="middle" font-size="13.33" stroke="#000" stroke-width="0.2" textLength="96.48" lengthAdjust="spacingAndGlyphs" transform="rotate(-90 363.3 516.45)">Strength (MPa)</text>
<text x="546.2" y="362.27" text-anchor="middle" font-size="15.99" font-weight="bold" stroke="#000" stroke-width="0.5" textLength="11.11" lengthAdjust="spacingAndGlyphs">d</text>
</svg>
</body></html>
